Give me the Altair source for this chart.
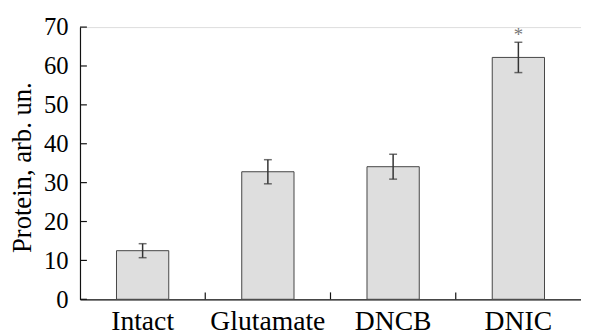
import altair as alt
import pandas as pd

categories = ["Intact", "Glutamate", "DNCB", "DNIC"]
values = [12.5, 32.8, 34.1, 62.2]
errors = [1.8, 3.1, 3.2, 3.9]
marks = ["", "", "", "*"]
y_ticks = [0, 10, 20, 30, 40, 50, 60, 70]
boundary_cats = ["Glutamate", "DNCB", "DNIC"]

df = pd.DataFrame({
    "cat": categories,
    "val": values,
    "lo": [v - e for v, e in zip(values, errors)],
    "hi": [v + e for v, e in zip(values, errors)],
    "mark": marks,
})
ticks_df = pd.DataFrame({"t": y_ticks})
bnd_df = pd.DataFrame({"cat": boundary_cats})

FONT = "Liberation Serif"
W, H = 508, 276

xscale = alt.Scale(domain=categories, paddingInner=0, paddingOuter=0)
yscale = alt.Scale(domain=[0, 70])

x_axis = alt.Axis(title=None, labelAngle=0, ticks=False, labelPadding=9,
                  labelFont=FONT, labelFontSize=28, labelColor="#000",
                  labelOverlap=False, grid=False,
                  domainColor="#111", domainWidth=1.2)
y_axis = alt.Axis(title="Protein, arb. un.", values=y_ticks, ticks=False,
                  grid=False, labelPadding=12, labelFont=FONT,
                  labelFontSize=25, labelColor="#000", labelOverlap=False,
                  titleFont=FONT, titleFontSize=27, titleFontWeight="normal",
                  titleColor="#000", titlePadding=7, titleY=142,
                  domainColor="#111", domainWidth=1.2)

def xn(**kw):
    return alt.X("cat:N", scale=xscale, sort=categories, axis=x_axis, **kw)

def yq(f):
    return alt.Y(f, scale=yscale, axis=y_axis)

bars = alt.Chart(df).mark_bar(width=53, fill="#dedede", stroke="#444",
                              strokeWidth=1).encode(x=xn(), y=yq("val:Q"))

err = alt.Chart(df).mark_rule(color="#333", strokeWidth=1.5).encode(
    x=xn(), y=yq("lo:Q"), y2="hi:Q")

cap_hi = alt.Chart(df).mark_tick(color="#333", size=8, thickness=1.5).encode(
    x=xn(), y=yq("hi:Q"))
cap_lo = alt.Chart(df).mark_tick(color="#333", size=8, thickness=1.5).encode(
    x=xn(), y=yq("lo:Q"))

star = alt.Chart(df).mark_text(font=FONT, fontSize=19, color="#777",
                               baseline="alphabetic", dy=-1).encode(
    x=xn(), y=yq("hi:Q"), text="mark:N")

yticks = alt.Chart(ticks_df).mark_rule(color="#111", strokeWidth=1.2).encode(
    y=yq("t:Q"), x=alt.value(0), x2=alt.value(7))

xticks = alt.Chart(bnd_df).mark_rule(color="#111", strokeWidth=1.2).encode(
    x=xn(bandPosition=0), y=alt.value(H), y2=alt.value(H - 7))

chart = alt.layer(bars, err, cap_hi, cap_lo, star, yticks, xticks).properties(
    width=W, height=H,
    autosize=alt.AutoSizeParams(type="none"),
    padding={"left": 73, "top": 17, "right": 0, "bottom": 45},
).configure_view(stroke=None).configure(background="white")

chart.save("out.html", embed_options={"renderer": "svg", "actions": False})
